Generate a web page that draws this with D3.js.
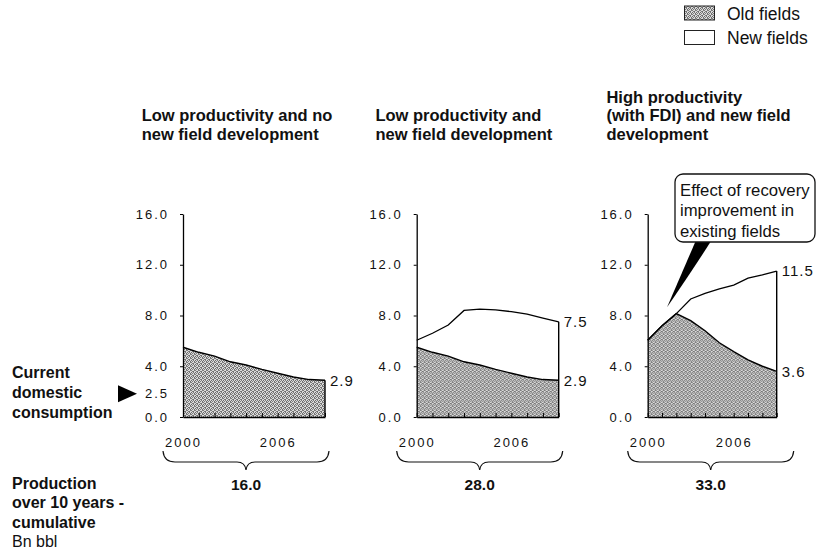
<!DOCTYPE html>
<html>
<head>
<meta charset="utf-8">
<script src="https://cdn.jsdelivr.net/npm/d3@7"></script>
<style>
  body { margin: 0; background: #fff; }
  svg { display: block; font-family: "Liberation Sans", Arial, Helvetica, sans-serif; }
</style>
</head>
<body>
<script>
// ---------------- data ----------------
const years = [2000, 2001, 2002, 2003, 2004, 2005, 2006, 2007, 2008, 2009];
const labeledYears = [2000, 2006];
const yTicks = [0, 4, 8, 12, 16];

// Panel 1 & 2: old fields, low productivity
const oldFieldsLow = [5.5, 5.1, 4.8, 4.35, 4.1, 3.75, 3.45, 3.15, 2.95, 2.9];
// Panel 2: old + new fields (total)
const totalLowNew = [6.05, 6.6, 7.25, 8.4, 8.5, 8.45, 8.3, 8.1, 7.8, 7.5];
// Panel 3: old fields, high productivity
const oldFieldsHigh = [6.05, 7.2, 8.15, 7.6, 6.8, 5.85, 5.15, 4.5, 4.0, 3.6];
// Panel 3: old + new fields (total)
const totalHigh = [6.05, 7.2, 8.15, 9.3, 9.75, 10.1, 10.4, 10.95, 11.2, 11.5];

const cumulative = [16.0, 28.0, 33.0];
const consumption = 2.5;

const titles = [
  ["Low productivity and no", "new field development"],
  ["Low productivity and", "new field development"],
  ["High productivity", "(with FDI) and new field", "development"]
];
const legendItems = ["Old fields", "New fields"];
const calloutLines = ["Effect of recovery", "improvement in", "existing fields"];
const leftLabel1 = ["Current", "domestic", "consumption"];
const leftLabel2 = ["Production", "over 10 years -", "cumulative"];
const unitLabel = "Bn bbl";

// ---------------- layout ----------------
const W = 817, H = 557;
const svg = d3.select("body").append("svg").attr("width", W).attr("height", H);

const defs = svg.append("defs");
const pat = defs.append("pattern").attr("id", "dither")
  .attr("width", 4).attr("height", 4).attr("patternUnits", "userSpaceOnUse");
pat.append("rect").attr("width", 4).attr("height", 4).attr("fill", "#dadada");
[[0,0],[2,0],[1,1],[3,1],[0,2],[3,2],[2,3],[1,3]].forEach(([a, b], k) => {
  pat.append("rect").attr("x", a).attr("y", b).attr("width", 1).attr("height", 1)
    .attr("fill", k % 3 === 0 ? "#6a6a6a" : "#7c7c7c");
});

const y = d3.scaleLinear().domain([0, 16]).range([417, 214]);

const panels = [
  { left: 183,   width: 142, old: oldFieldsLow,  total: null },
  { left: 416.7, width: 142, old: oldFieldsLow,  total: totalLowNew },
  { left: 647.7, width: 129, old: oldFieldsHigh, total: totalHigh }
];

const tickFont = "13px";
const fmt = d3.format(".1f");

panels.forEach((p, i) => {
  const g = svg.append("g").attr("transform", `translate(${p.left},0)`);
  const x = d3.scaleLinear().domain([years[0], years[years.length - 1]]).range([0, p.width]);
  p.x = x;

  // old fields area
  const areaOld = d3.area()
    .x((d, j) => x(years[j])).y0(y(0)).y1(d => y(d));
  g.append("path").datum(p.old).attr("d", areaOld).attr("fill", "url(#dither)");

  // new fields area (white) between old and total
  if (p.total) {
    const areaNew = d3.area()
      .x((d, j) => x(years[j])).y0((d, j) => y(p.old[j])).y1(d => y(d));
    g.append("path").datum(p.total).attr("d", areaNew).attr("fill", "#fff");
  }

  const line = d3.line().x((d, j) => x(years[j])).y(d => y(d));
  g.append("path").datum(p.old).attr("d", line)
    .attr("fill", "none").attr("stroke", "#000").attr("stroke-width", 1.4);
  if (p.total) {
    g.append("path").datum(p.total).attr("d", line)
      .attr("fill", "none").attr("stroke", "#000").attr("stroke-width", 1.3);
  }

  // right closing edge
  const lastTop = p.total ? p.total[p.total.length - 1] : p.old[p.old.length - 1];
  g.append("line")
    .attr("x1", x(years[years.length - 1])).attr("x2", x(years[years.length - 1]))
    .attr("y1", y(0)).attr("y2", y(lastTop))
    .attr("stroke", "#000").attr("stroke-width", 1.4);

  // y axis
  const ya = g.append("g").call(
    d3.axisLeft(y).tickValues(yTicks).tickFormat(fmt)
      .tickSize(3).tickSizeOuter(0).tickPadding(11));
  ya.select(".domain").attr("stroke-width", 1.3);
  ya.selectAll("text").attr("font-family", "Liberation Sans, Arial, sans-serif")
    .attr("font-size", tickFont).attr("letter-spacing", "2px").attr("fill", "#111");

  // x axis
  const xa = g.append("g").attr("transform", `translate(0,${y(0)})`).call(
    d3.axisBottom(x).tickValues(years)
      .tickFormat(d => labeledYears.includes(d) ? String(d) : "")
      .tickSize(-4).tickSizeOuter(0).tickPadding(21));
  xa.select(".domain").attr("stroke-width", 1.4);
  xa.selectAll(".tick line").attr("stroke-width", 1);
  xa.selectAll("text").attr("font-family", "Liberation Sans, Arial, sans-serif")
    .attr("font-size", tickFont).attr("letter-spacing", "2px").attr("fill", "#111");

  // end value labels
  const endVals = p.total ? [p.total[p.total.length - 1], p.old[p.old.length - 1]]
                          : [p.old[p.old.length - 1]];
  endVals.forEach(v => {
    g.append("text")
      .attr("x", p.width + 5).attr("y", y(v)).attr("dy", "0.36em")
      .attr("font-size", "15px").attr("letter-spacing", "1px").attr("fill", "#111")
      .text(fmt(v));
  });

  // title
  const tt = svg.append("text").attr("font-size", "16.5px").attr("font-weight", "bold").attr("fill", "#111");
  const lines = titles[i];
  const lastBase = 139.5, lh = 18.5;
  lines.forEach((s, k) => {
    tt.append("tspan").attr("x", p.left - 41.3)
      .attr("y", lastBase - (lines.length - 1 - k) * lh).text(s);
  });

  // brace
  const L = p.left - 20, R = p.left + 146, C = p.left + 63;
  const yT = 451, yM = 462, yB = 470;
  const bp = d3.path();
  bp.moveTo(L, yT);
  bp.quadraticCurveTo(L + 1, yM, L + 12, yM);
  bp.lineTo(C - 9, yM);
  bp.quadraticCurveTo(C - 1, yM, C, yB);
  bp.quadraticCurveTo(C + 1, yM, C + 9, yM);
  bp.lineTo(R - 12, yM);
  bp.quadraticCurveTo(R - 1, yM, R, yT);
  svg.append("path").attr("d", bp.toString())
    .attr("fill", "none").attr("stroke", "#111").attr("stroke-width", 1.2);

  // cumulative total
  svg.append("text").attr("x", C).attr("y", 490).attr("text-anchor", "middle")
    .attr("font-size", "15.5px").attr("font-weight", "bold").attr("fill", "#111")
    .text(fmt(cumulative[i]));
});

// ---------------- consumption marker (panel 1) ----------------
const p0 = panels[0];
svg.append("text").attr("x", p0.left - 14).attr("y", y(consumption) + 8).attr("dy", "0.36em")
  .attr("text-anchor", "end").attr("font-size", tickFont).attr("letter-spacing", "2px")
  .attr("fill", "#111").text(fmt(consumption));
svg.append("path")
  .attr("d", `M118,${y(consumption) + 0}L118,${y(consumption) + 17}L137,${y(consumption) + 8.5}Z`)
  .attr("fill", "#000");

// left labels
const ll1 = svg.append("text").attr("font-size", "16px").attr("font-weight", "bold").attr("fill", "#111");
leftLabel1.forEach((s, k) => ll1.append("tspan").attr("x", 12).attr("y", 378 + k * 20).text(s));
const ll2 = svg.append("text").attr("font-size", "16px").attr("font-weight", "bold").attr("fill", "#111");
leftLabel2.forEach((s, k) => ll2.append("tspan").attr("x", 12).attr("y", 489 + k * 19.3).text(s));
svg.append("text").attr("x", 12).attr("y", 489 + 3 * 19.3)
  .attr("font-size", "16px").attr("fill", "#111").text(unitLabel);

// ---------------- callout (panel 3) ----------------
const p2 = panels[2];
const tipX = p2.left + p2.x(2001.35), tipY = y(8.65);
svg.append("path")
  .attr("d", `M697,238 Q684,268 ${tipX},${tipY} Q694,268 713,238 Z`)
  .attr("fill", "#000");
svg.append("rect").attr("x", 675).attr("y", 174).attr("width", 140).attr("height", 68)
  .attr("rx", 8).attr("ry", 8).attr("fill", "#fff").attr("stroke", "#111").attr("stroke-width", 1.3);
const ct = svg.append("text").attr("font-size", "16.7px").attr("fill", "#111");
calloutLines.forEach((s, k) => ct.append("tspan").attr("x", 680).attr("y", 196 + k * 20.3).text(s));

// ---------------- legend ----------------
legendItems.forEach((s, k) => {
  const yy = 6 + k * 24.5;
  svg.append("rect").attr("x", 684.5).attr("y", yy).attr("width", 30).attr("height", 14)
    .attr("fill", k === 0 ? "url(#dither)" : "#fff")
    .attr("stroke", "#222").attr("stroke-width", 1);
  svg.append("text").attr("x", 727).attr("y", yy + 13.5)
    .attr("font-size", "17.5px").attr("fill", "#111").text(s);
});
</script>
</body>
</html>
